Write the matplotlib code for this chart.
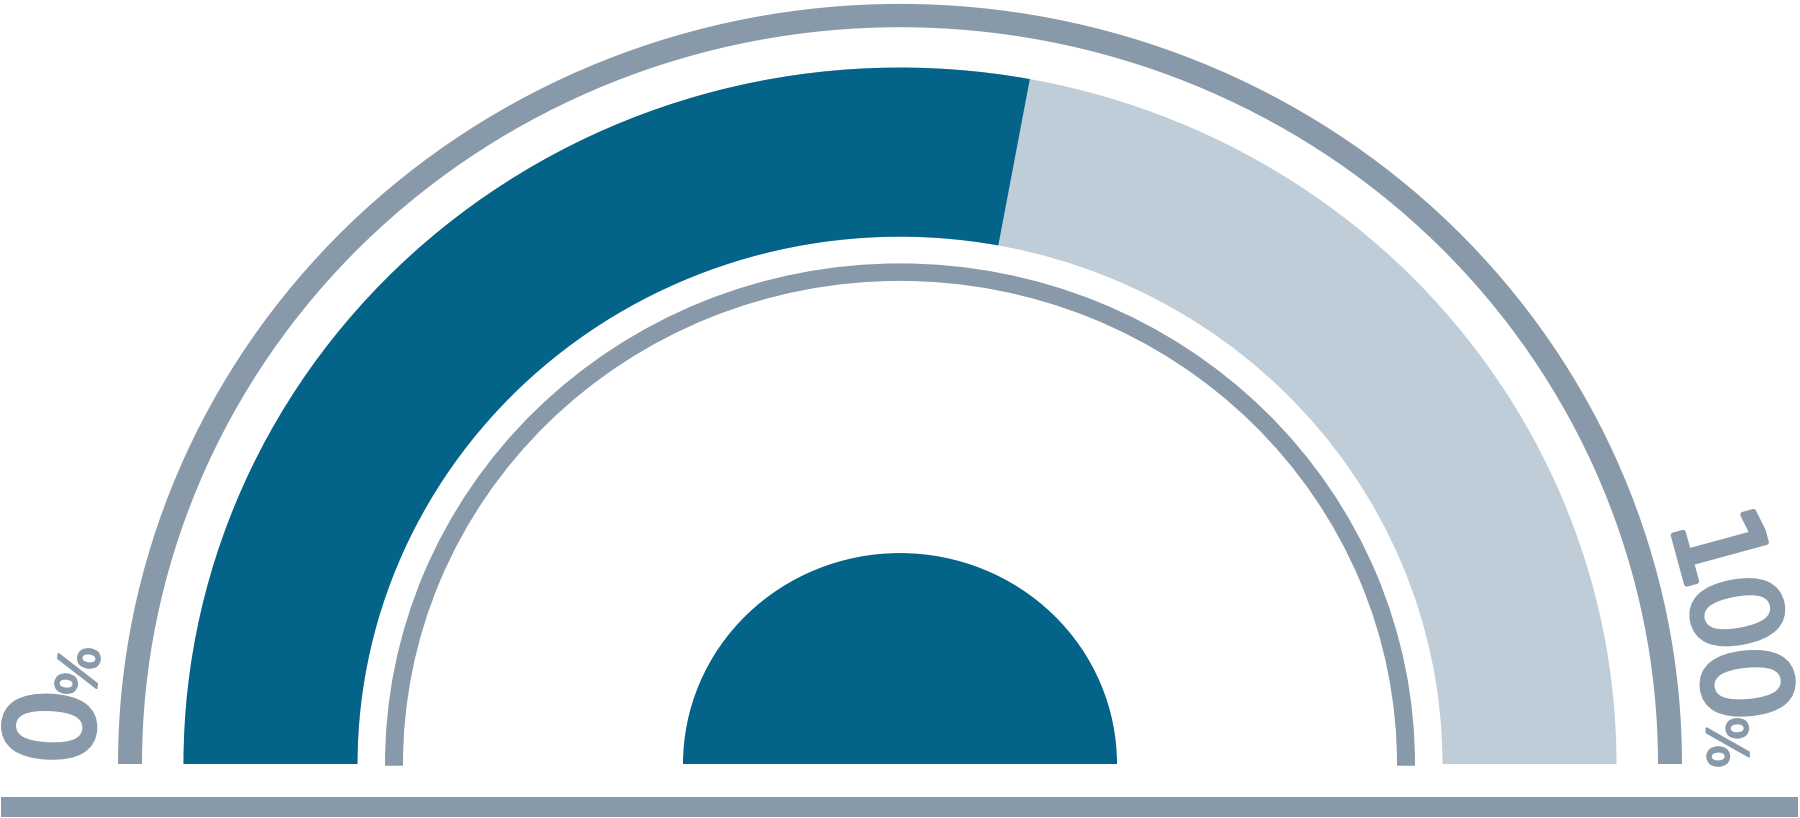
import numpy as np
import matplotlib
matplotlib.use("Agg")
import matplotlib.pyplot as plt
import matplotlib.patheffects as pe
from matplotlib.patches import Wedge, Rectangle

# ---- data ----
gauge_value = 55.8          # current value (percent)
gauge_min = 0
gauge_max = 100
min_label = ["0", "%"]      # label at the start of the scale
max_label = ["100", "%"]    # label at the end of the scale

# ---- style ----
DARK = "#036388"
LIGHT = "#BFCDD8"
GREY = "#889AA9"
YS = 0.972                  # vertical squeeze of the gauge

fig = plt.figure(figsize=(18, 8.18), dpi=100)
ax = fig.add_axes([0, 0, 1, 1])
ax.set_xlim(-900, 900)
ax.set_ylim((764 - 818) / YS, 764 / YS)
ax.axis("off")

# outer thin ring
ax.add_patch(Wedge((0, 0), 782, 0, 180, width=24, facecolor=GREY, lw=0))
# background band
ax.add_patch(Wedge((0, 0), 716.5, 0, 180, width=174, facecolor=LIGHT, lw=0))
# value band
frac = (gauge_value - gauge_min) / (gauge_max - gauge_min)
ax.add_patch(Wedge((0, 0), 716.5, 180 - 180 * frac, 180, width=174,
                   facecolor=DARK, lw=0))
# inner thin ring
ax.add_patch(Wedge((0, 0), 515, -0.2, 180.2, width=18, facecolor=GREY, lw=0))
# hub
ax.add_patch(Wedge((0, 0), 217, 0, 180, facecolor=DARK, lw=0))
# base bar
ax.add_patch(Rectangle((-899, (764 - 817) / YS), 1797, 20 / YS,
                       facecolor=GREY, lw=0))

# ---- curved labels ----
R_TXT = 808
BIG_PX, SMALL_PX = 120, 55
ADV = {"1": 62, "0": 70, "%": 44}
STROKE = {"big": 4.0, "small": 1.5}


def glyphs(parts):
    out = []
    for ch in parts[0]:
        out.append((ch, BIG_PX, ADV[ch], STROKE["big"]))
    for ch in parts[1]:
        out.append((ch, SMALL_PX, ADV[ch], STROKE["small"]))
    return out


def place(chars, start_deg):
    ang = start_deg
    for ch, px, adv, sw in chars:
        mid = ang - np.degrees(adv / 2 / R_TXT)
        x = R_TXT * np.cos(np.radians(mid))
        y = R_TXT * np.sin(np.radians(mid))
        ax.text(x, y, ch, fontsize=px * 72 / 100, family="DejaVu Sans",
                color=GREY, rotation=mid - 90, rotation_mode="anchor",
                ha="center", va="baseline",
                path_effects=[pe.withStroke(linewidth=sw, foreground=GREY)])
        ang -= np.degrees(adv / R_TXT)


left = glyphs(min_label)
place(left, 179.9)
right = glyphs(max_label)
total = sum(c[2] for c in right)
place(right, -0.02 + np.degrees(total / R_TXT))

fig.savefig("out.png", dpi=100)
